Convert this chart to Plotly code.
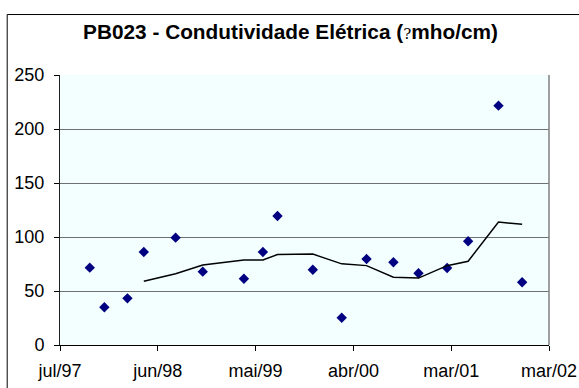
import pandas as pd
import plotly.graph_objects as go

# Sampling dates and measured electrical conductivity at PB023
dates = [
    "1997-10-11", "1997-11-30", "1998-02-17", "1998-04-14", "1998-08-01",
    "1998-11-02", "1999-03-23", "1999-05-27", "1999-07-16", "1999-11-14",
    "2000-02-21", "2000-05-16", "2000-08-16", "2000-11-10", "2001-02-16",
    "2001-04-29", "2001-08-11", "2001-10-31",
]
condutividade = [
    71.6, 34.9, 43.2, 86.1, 99.4,
    67.9, 61.4, 86.1, 119.4, 69.7,
    25.3, 79.6, 76.6, 66.4, 71.3,
    96.0, 221.6, 58.1,
]

# Axis ticks
tick_dates = ["1997-07-01", "1998-06-01", "1999-05-02", "2000-04-01", "2001-03-02", "2002-01-31"]
tick_labels = ["jul/97", "jun/98", "mai/99", "abr/00", "mar/01", "mar/02"]
y_ticks = [0, 50, 100, 150, 200, 250]

# 4-period moving average trendline
media_movel = pd.Series(condutividade).rolling(4).mean()

FONT = "Liberation Sans, Arial, sans-serif"

title_text = (
    "<b>PB023 - Condutividade Elétrica (</b>"
    "<span style='font-family:DejaVu Serif;font-weight:normal;font-size:15px'>?</span>"
    "<b>mho/cm)</b>"
)

fig = go.Figure()
fig.add_trace(go.Scatter(
    x=dates, y=condutividade, mode="markers",
    marker=dict(symbol="diamond", size=8, color="#000080"),
    showlegend=False,
))
fig.add_trace(go.Scatter(
    x=dates, y=media_movel, mode="lines",
    line=dict(color="black", width=1.5),
    connectgaps=False, showlegend=False,
))

fig.update_layout(
    width=579, height=388,
    margin=dict(l=60, r=30, t=75, b=43),
    paper_bgcolor="white",
    plot_bgcolor="#F3FFFF",
    font=dict(family=FONT, size=18, color="black"),
    title=dict(
        text=title_text,
        x=290.5 / 579, xref="container", xanchor="center",
        y=1 - 32 / 388, yref="container", yanchor="middle",
        font=dict(family=FONT, size=20.8, color="black"),
    ),
)

fig.update_xaxes(
    type="date",
    range=[tick_dates[0], tick_dates[-1]],
    tickmode="array", tickvals=tick_dates, ticktext=tick_labels,
    showgrid=False, zeroline=False,
    showline=True, linecolor="black", linewidth=1,
    ticks="outside", ticklen=5, tickcolor="black",
    ticklabelstandoff=4, automargin=False,
    tickfont=dict(family=FONT, size=18, color="black"),
)
fig.update_yaxes(
    range=[0, 250],
    tickmode="array", tickvals=y_ticks,
    showgrid=True, gridcolor="#707070", gridwidth=1,
    zeroline=False,
    showline=True, linecolor="#202020", linewidth=1,
    ticks="outside", ticklen=5, tickcolor="black",
    ticklabelstandoff=6, automargin=False,
    tickfont=dict(family=FONT, size=18, color="black"),
)

# Plot-area right edge and outer chart frame
fig.add_shape(type="line", xref="paper", yref="paper", x0=1, x1=1, y0=0, y1=1,
              line=dict(color="#808080", width=1.5))
fig.add_shape(type="rect", xref="paper", yref="paper",
              x0=-0.108, x1=1.08, y0=-0.2, y1=1.224,
              line=dict(color="black", width=1), fillcolor="rgba(0,0,0,0)")

fig.write_html("out.html")
